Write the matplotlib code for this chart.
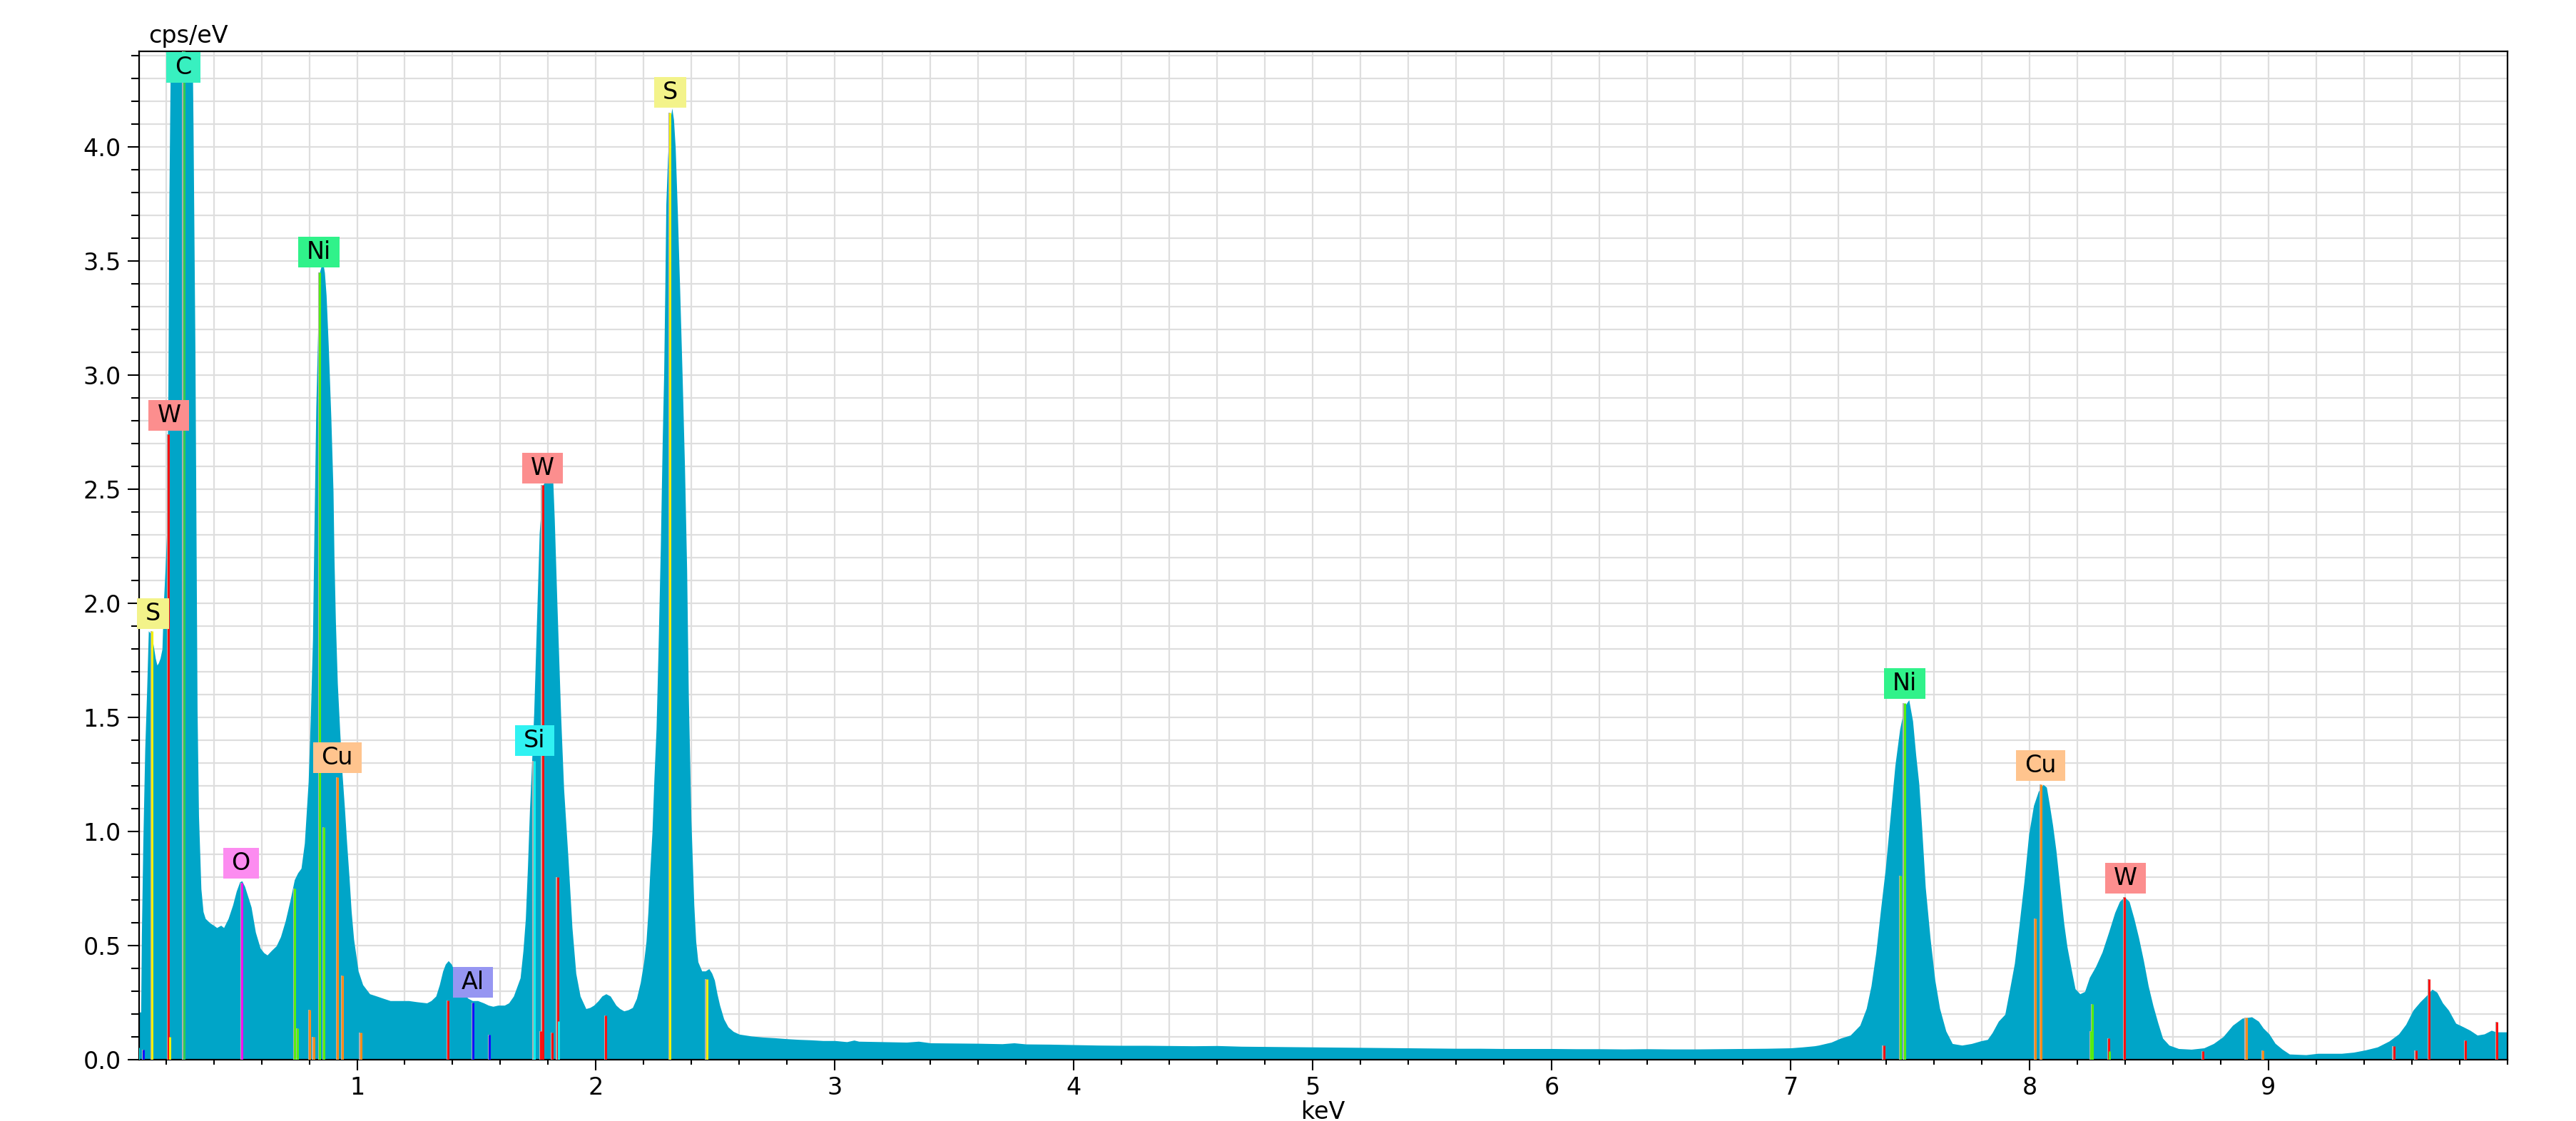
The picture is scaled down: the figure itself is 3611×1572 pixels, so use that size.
import matplotlib
matplotlib.use("Agg")
import matplotlib.pyplot as plt
from matplotlib.path import Path
from matplotlib.ticker import MultipleLocator

# spectrum (keV, cps/eV)
energy = [0.088, 0.095, 0.098, 0.104, 0.112, 0.12, 0.127, 0.135, 0.142, 0.15,
          0.156, 0.163, 0.169, 0.176, 0.184, 0.19, 0.197, 0.203, 0.209, 0.213,
          0.22, 0.31, 0.314, 0.322, 0.331, 0.337, 0.347, 0.356, 0.365, 0.385,
          0.40, 0.413, 0.43, 0.442, 0.461, 0.48, 0.495, 0.509, 0.518, 0.53,
          0.545, 0.557, 0.575, 0.595, 0.61, 0.624, 0.642, 0.662, 0.68, 0.70,
          0.72, 0.738, 0.752, 0.766, 0.78, 0.796, 0.805, 0.814, 0.82, 0.828,
          0.836, 0.843, 0.856, 0.864, 0.871, 0.88, 0.891, 0.90, 0.904, 0.91,
          0.918, 0.928, 0.938, 0.948, 0.957, 0.967, 0.976, 0.986, 1.005, 1.024,
          1.053, 1.082, 1.11, 1.139, 1.18, 1.216, 1.25, 1.292, 1.31, 1.33,
          1.345, 1.359, 1.37, 1.382, 1.395, 1.407, 1.425, 1.445, 1.465, 1.483,
          1.505, 1.53, 1.55, 1.569, 1.59, 1.617, 1.635, 1.655, 1.683, 1.695,
          1.705, 1.714, 1.722, 1.731, 1.74, 1.751, 1.763, 1.778, 1.785, 1.82,
          1.826, 1.837, 1.845, 1.853, 1.865, 1.883, 1.90, 1.916, 1.934, 1.958,
          1.975, 1.991, 2.01, 2.025, 2.042, 2.06, 2.084, 2.1, 2.117, 2.135,
          2.153, 2.17, 2.186, 2.20, 2.21, 2.218, 2.226, 2.235, 2.243, 2.252,
          2.26, 2.27, 2.278, 2.284, 2.289, 2.293, 2.30, 2.308, 2.318, 2.325,
          2.332, 2.341, 2.351, 2.361, 2.371, 2.38, 2.387, 2.398, 2.41, 2.418,
          2.427, 2.443, 2.458, 2.473, 2.485, 2.496, 2.507, 2.518, 2.535, 2.553,
          2.575, 2.6, 2.65, 2.70, 2.75, 2.8, 2.85, 2.9, 2.95, 3.0,
          3.05, 3.08, 3.1, 3.2, 3.3, 3.35, 3.4, 3.5, 3.6, 3.7,
          3.75, 3.8, 3.9, 4.0, 4.1, 4.2, 4.3, 4.4, 4.5, 4.6,
          4.7, 4.8, 4.9, 5.0, 5.1, 5.2, 5.3, 5.4, 5.5, 5.6,
          5.7, 5.8, 5.9, 6.0, 6.1, 6.2, 6.3, 6.4, 6.5, 6.6,
          6.7, 6.8, 6.9, 7.0, 7.05, 7.1, 7.117, 7.17, 7.21, 7.25,
          7.29, 7.317, 7.337, 7.357, 7.377, 7.397, 7.417, 7.437, 7.457, 7.477,
          7.495, 7.511, 7.524, 7.537, 7.55, 7.564, 7.584, 7.604, 7.624, 7.65,
          7.677, 7.717, 7.757, 7.797, 7.824, 7.844, 7.87, 7.897, 7.917, 7.937,
          7.957, 7.977, 7.997, 8.017, 8.037, 8.057, 8.071, 8.084, 8.097, 8.111,
          8.131, 8.144, 8.157, 8.177, 8.191, 8.211, 8.231, 8.251, 8.277, 8.304,
          8.331, 8.357, 8.377, 8.397, 8.417, 8.437, 8.457, 8.477, 8.497, 8.517,
          8.537, 8.557, 8.584, 8.624, 8.677, 8.73, 8.77, 8.81, 8.85, 8.89,
          8.93, 8.958, 8.978, 9.003, 9.028, 9.058, 9.088, 9.157, 9.207, 9.306,
          9.356, 9.406, 9.456, 9.505, 9.545, 9.575, 9.605, 9.635, 9.66, 9.685,
          9.705, 9.729, 9.754, 9.784, 9.814, 9.844, 9.874, 9.903, 9.933, 9.953,
          10.0]
counts = [0.21, 0.21, 0.55, 0.95, 1.36, 1.62, 1.88, 1.87, 1.85, 1.80,
          1.76, 1.73, 1.74, 1.76, 1.80, 2.0, 2.15, 2.3, 2.94, 3.76,
          4.5, 4.5, 4.1, 3.11, 1.53, 1.07, 0.75, 0.65, 0.62, 0.60,
          0.59, 0.58, 0.59, 0.58, 0.62, 0.68, 0.74, 0.78, 0.785, 0.76,
          0.71, 0.67, 0.56, 0.49, 0.47, 0.46, 0.48, 0.50, 0.54, 0.61,
          0.70, 0.79, 0.82, 0.84, 0.95, 1.22, 1.5, 1.84, 2.3, 2.86,
          3.2, 3.45, 3.5, 3.45, 3.35, 3.13, 2.81, 2.49, 2.2, 1.92,
          1.65, 1.44, 1.25, 1.1, 0.95, 0.8, 0.65, 0.53, 0.39, 0.33,
          0.29, 0.28, 0.27, 0.26, 0.26, 0.26, 0.255, 0.25, 0.26, 0.28,
          0.33, 0.39, 0.42, 0.435, 0.42, 0.39, 0.33, 0.29, 0.27, 0.26,
          0.26, 0.25, 0.24, 0.235, 0.24, 0.24, 0.25, 0.28, 0.36, 0.48,
          0.62, 0.85, 1.09, 1.3, 1.52, 1.9, 2.31, 2.52, 2.53, 2.53,
          2.37, 2.0, 1.75, 1.5, 1.19, 0.89, 0.58, 0.38, 0.28, 0.225,
          0.23, 0.24, 0.26, 0.28, 0.29, 0.28, 0.24, 0.225, 0.215, 0.22,
          0.23, 0.27, 0.34, 0.43, 0.52, 0.65, 0.83, 1.0, 1.23, 1.45,
          1.78, 2.25, 2.72, 3.01, 3.4, 3.75, 3.95, 4.1, 4.17, 4.12,
          4.0, 3.72, 3.37, 3.0, 2.6, 2.15, 1.6, 1.05, 0.68, 0.52,
          0.43, 0.39, 0.39, 0.40, 0.38, 0.35, 0.29, 0.24, 0.18, 0.145,
          0.125, 0.113, 0.105, 0.10, 0.097, 0.093, 0.09, 0.088, 0.085, 0.085,
          0.08, 0.087, 0.082, 0.08, 0.078, 0.082, 0.075, 0.074, 0.073, 0.071,
          0.075, 0.07, 0.069, 0.067, 0.065, 0.064, 0.064, 0.063, 0.062, 0.063,
          0.06, 0.059, 0.058, 0.057, 0.056, 0.055, 0.054, 0.053, 0.052, 0.051,
          0.051, 0.05, 0.05, 0.05, 0.049, 0.049, 0.048, 0.049, 0.048, 0.048,
          0.049, 0.05, 0.051, 0.053, 0.057, 0.062, 0.065, 0.078, 0.096, 0.109,
          0.152, 0.226, 0.325, 0.47, 0.66, 0.84, 1.065, 1.29, 1.45, 1.55,
          1.578, 1.485, 1.337, 1.21, 1.0, 0.757, 0.535, 0.35, 0.226, 0.127,
          0.072, 0.065, 0.072, 0.084, 0.09, 0.12, 0.17, 0.2, 0.31, 0.423,
          0.596, 0.78, 0.99, 1.115, 1.177, 1.207, 1.195, 1.115, 1.028, 0.917,
          0.72, 0.596, 0.497, 0.386, 0.312, 0.29, 0.30, 0.362, 0.41, 0.473,
          0.559, 0.646, 0.695, 0.714, 0.695, 0.621, 0.535, 0.436, 0.325, 0.238,
          0.164, 0.096, 0.065, 0.05, 0.047, 0.053, 0.072, 0.102, 0.152, 0.183,
          0.189, 0.17, 0.14, 0.114, 0.073, 0.047, 0.026, 0.023, 0.029, 0.029,
          0.034, 0.044, 0.057, 0.083, 0.114, 0.156, 0.218, 0.255, 0.281, 0.31,
          0.297, 0.25, 0.218, 0.161, 0.146, 0.13, 0.109, 0.114, 0.13, 0.123,
          0.123]

# element marker lines (keV, height, element)
marker_kev = [0.086, 0.106, 0.142, 0.21, 0.216, 0.275, 0.518, 0.74, 0.752, 0.802,
              0.818, 0.843, 0.862, 0.919, 0.939, 1.015, 1.382, 1.485, 1.554, 1.741,
              1.77, 1.777, 1.817, 1.839, 1.842, 2.041, 2.31, 2.464, 7.39, 7.461,
              7.477, 8.024, 8.048, 8.257, 8.264, 8.331, 8.335, 8.398, 8.727, 8.907,
              8.976, 9.525, 9.617, 9.672, 9.824, 9.956]
marker_top = [0.055, 0.045, 1.88, 2.74, 0.1, 4.5, 0.775, 0.75, 0.14, 0.22,
              0.1, 3.45, 1.02, 1.24, 0.37, 0.12, 0.26, 0.25, 0.11, 1.31,
              0.125, 2.52, 0.12, 0.8, 0.17, 0.195, 4.15, 0.355, 0.063, 0.806,
              1.565, 0.62, 1.207, 0.127, 0.244, 0.096, 0.04, 0.714, 0.04, 0.187,
              0.042, 0.062, 0.042, 0.354, 0.085, 0.166]
marker_elem = ["Si", "Al", "S", "W", "S", "C", "O", "Ni", "Ni", "Cu",
               "Cu", "Ni", "Ni", "Cu", "Cu", "Cu", "W", "Al", "Al", "Si",
               "W", "W", "W", "W", "Si", "W", "S", "S", "W", "Ni",
               "Ni", "Cu", "Cu", "Ni", "Ni", "W", "Ni", "W", "W", "Cu",
               "Cu", "W", "W", "W", "W", "W"]

# peak labels
label_text = ["C", "W", "S", "Ni", "O", "Cu", "Al", "Si", "W", "S", "Ni", "Cu", "W"]
label_kev = [0.273, 0.213, 0.146, 0.84, 0.514, 0.917, 1.486, 1.743, 1.777, 2.31, 7.477, 8.046, 8.402]
label_cps = [4.35, 2.825, 1.955, 3.54, 0.862, 1.325, 0.34, 1.40, 2.593, 4.24, 1.65, 1.289, 0.796]

tick_kev = [1, 2, 3, 4, 5, 6, 7, 8, 9]
tick_cps = [0.0, 0.5, 1.0, 1.5, 2.0, 2.5, 3.0, 3.5, 4.0]

line_colors = {"C": "#2ecc55", "W": "#ff1010", "S": "#f0f000", "Ni": "#55ee10",
               "Cu": "#ff8c1a", "Si": "#10eeee", "Al": "#1010ff", "O": "#ee10ee"}
box_colors = {"C": "#38f0c0", "W": "#fc8e8e", "S": "#f3f38a", "Ni": "#30f28a",
              "Cu": "#ffc48e", "Si": "#30f2f2", "Al": "#9696f2", "O": "#fc8cf0"}


def label_box(x0, y0, width, height, mutation_size):
    # wide flat box like the EDS software draws
    px = 0.36 * mutation_size
    py = 0.15 * mutation_size
    x0, y0 = x0 - px, y0 - py
    x1, y1 = x0 + width + 2 * px, y0 + height + 2 * py
    return Path([(x0, y0), (x1, y0), (x1, y1), (x0, y1), (x0, y0)], closed=True)


fig = plt.figure(figsize=(36.12, 15.72), dpi=100)
ax = fig.add_axes([0.054, 0.0544, 0.9191, 0.9])

ax.fill_between(energy, counts, 0, color="#00a5c8", linewidth=0, zorder=2)

for k, h, el in zip(marker_kev, marker_top, marker_elem):
    ax.vlines(k - 0.004, 0, h, color="#b0b0b0", linewidth=1.5, zorder=3)
    ax.vlines(k, 0, h, color=line_colors[el], linewidth=2.2, zorder=4)

for t, k, c in zip(label_text, label_kev, label_cps):
    ax.text(k, c, t, fontsize=24, ha="center", va="center", zorder=6,
            bbox=dict(boxstyle=label_box, facecolor=box_colors[t], edgecolor="none"))

ax.set_xlim(0.088, 10.0)
ax.set_ylim(0, 4.42)

ax.set_xticks(tick_kev)
ax.set_xticklabels([str(v) for v in tick_kev])
ax.xaxis.set_minor_locator(MultipleLocator(0.2))
ax.set_yticks(tick_cps)
ax.set_yticklabels(["%.1f" % v for v in tick_cps])
ax.yaxis.set_minor_locator(MultipleLocator(0.1))

ax.grid(True, which="both", color="#dedede", linewidth=1.6)
ax.set_axisbelow(True)

ax.tick_params(axis="x", which="major", length=11, width=1.5, pad=5, labelsize=24)
ax.tick_params(axis="x", which="minor", length=5, width=1.5)
ax.tick_params(axis="y", which="major", length=11.5, width=1.5, pad=6.5, labelsize=24)
ax.tick_params(axis="y", which="minor", length=8, width=1.5)
for s in ax.spines.values():
    s.set_linewidth(1.6)

ax.set_xlabel("keV", fontsize=24, labelpad=1)
ax.text(0.004, 1.003, "cps/eV", transform=ax.transAxes, fontsize=24, ha="left", va="bottom")

fig.savefig("out.png", dpi=100)
